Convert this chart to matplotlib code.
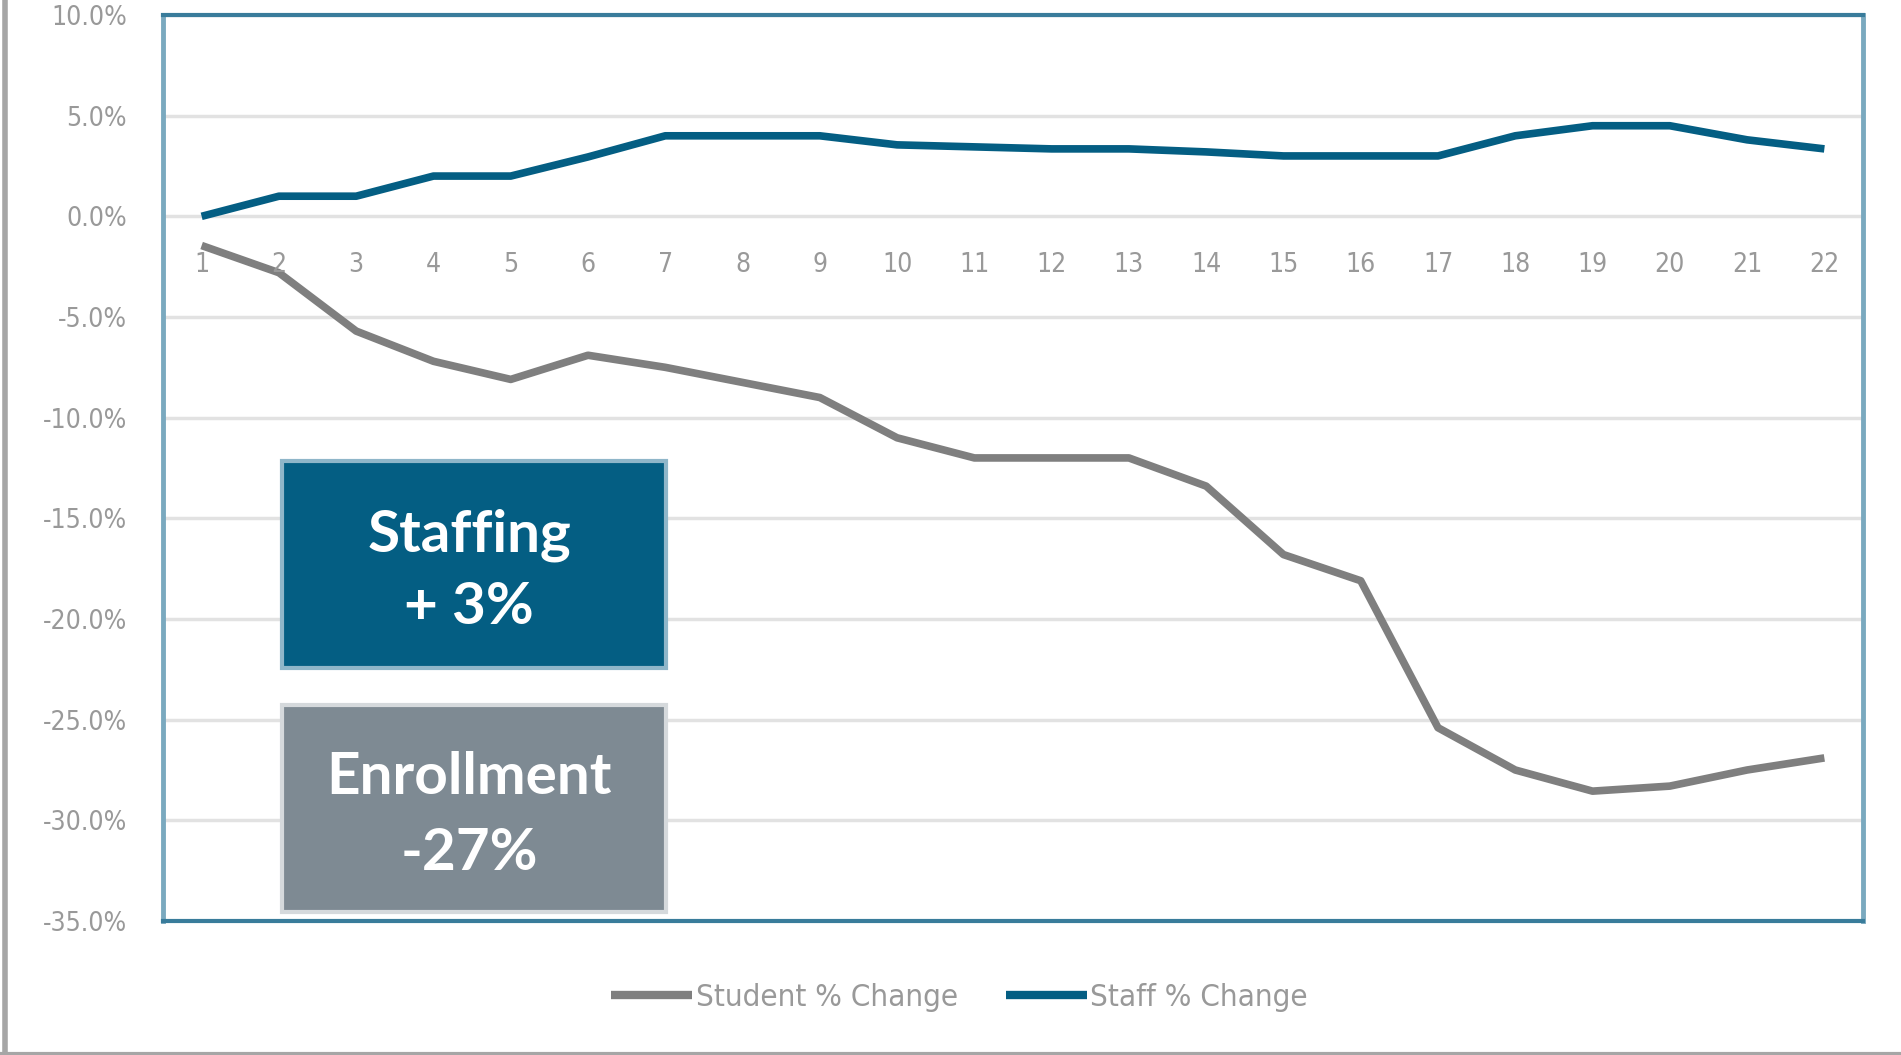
import matplotlib
matplotlib.use("Agg")
import matplotlib.pyplot as plt
import matplotlib.patches as mpatches
from matplotlib.lines import Line2D
import matplotlib.transforms as mtransforms

# donnees
periods = list(range(1, 23))
student_change = [-1.45, -2.8, -5.7, -7.2, -8.1, -6.9, -7.5, -8.25, -9.0, -11.0, -12.0,
                  -12.0, -12.0, -13.4, -16.8, -18.1, -25.4, -27.5, -28.55, -28.3, -27.5, -26.9]
staff_change = [0.0, 1.0, 1.0, 2.0, 2.0, 2.95, 4.0, 4.0, 4.0, 3.55, 3.45,
                3.35, 3.35, 3.2, 3.0, 3.0, 3.0, 4.0, 4.5, 4.5, 3.8, 3.35]
y_ticks = [10, 5, 0, -5, -10, -15, -20, -25, -30, -35]
series_names = ["Student % Change", "Staff % Change"]
box_labels = [("Staffing", "+ 3%"), ("Enrollment", "-27%")]

teal = "#045e83"
grey = "#7f7f7f"
txt_grey = "#999999"
cond = dict(family="DejaVu Sans", stretch="condensed")

W, H = 1901, 1055
fig = plt.figure(figsize=(W / 100, H / 100), dpi=100)
ax = fig.add_axes([163 / W, (H - 921) / H, 1700 / W, 906 / H])

ax.plot(periods, student_change, color=grey, lw=5.5, solid_capstyle="butt", label=series_names[0], zorder=3)
ax.plot(periods, staff_change, color=teal, lw=5.5, solid_capstyle="butt", label=series_names[1], zorder=3)

ax.set_xlim(0.5, 22.5)
ax.set_ylim(-35, 10)
ax.set_yticks(y_ticks)
ax.set_yticklabels([f"{v:.1f}%" for v in y_ticks], fontsize=19, color=txt_grey, **cond)
ax.tick_params(axis="y", length=0, pad=26)
ax.set_xticks([])
ax.grid(axis="y", color="#e2e2e2", lw=2.5, zorder=0)

# etiquettes de categories sous la ligne zero
trans = mtransforms.offset_copy(ax.transData, fig=fig, x=0, y=-49, units="dots")
for p in periods:
    ax.text(p, 0, str(p), transform=trans, ha="center", va="center",
            fontsize=19, color=txt_grey, **cond)

for s in ["top", "bottom"]:
    ax.spines[s].set_color("#397c9b")
    ax.spines[s].set_linewidth(3)
for s in ["left", "right"]:
    ax.spines[s].set_color("#7aa9bf")
    ax.spines[s].set_linewidth(3.5)

# boites de texte
boxes = [(461, 668, teal, "#8fb6c9", 530, 603), (705, 912, "#7e8a93", "#d5d9dc", 773, 848)]
for (y0, y1, fc, ec, l1, l2), lab in zip(boxes, box_labels):
    r = mpatches.Rectangle((282 / W, (H - y1) / H), 384 / W, (y1 - y0) / H,
                           transform=fig.transFigure, facecolor=fc, edgecolor=ec, lw=3, zorder=5)
    fig.add_artist(r)
    for ly, s in zip((l1, l2), lab):
        fig.text(469 / W, (H - ly) / H, s, ha="center", va="center_baseline",
                 color="white", fontsize=42, fontweight="bold", family="Lato", zorder=6)

leg = fig.legend(loc="center left", bbox_to_anchor=(583 / W, (H - 997) / H), ncol=2,
                 frameon=False, handlelength=2.6, handletextpad=0.1, columnspacing=1.55,
                 prop=dict(size=22.5, **cond))
for t in leg.get_texts():
    t.set_color(txt_grey)
for h in leg.legend_handles:
    h.set_linewidth(6)

# bordure grise du cadre
fig.add_artist(Line2D([5 / W, 5 / W], [0, 1], transform=fig.transFigure, color="#a6a6a6", lw=4))
fig.add_artist(Line2D([0, 1], [1.5 / H, 1.5 / H], transform=fig.transFigure, color="#a6a6a6", lw=3))

fig.savefig("out.png", dpi=100)
